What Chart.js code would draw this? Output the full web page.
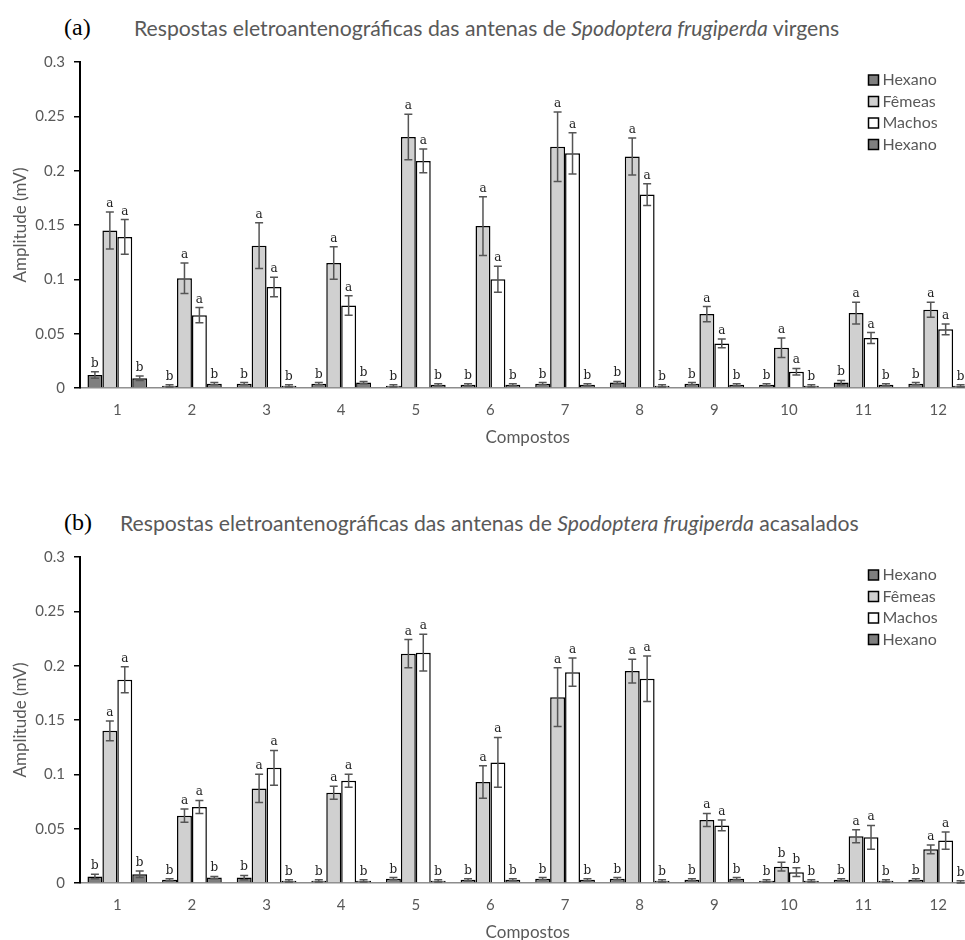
<!DOCTYPE html>
<html>
<head>
<meta charset="utf-8">
<script src="https://cdn.jsdelivr.net/npm/chart.js@4.4.0/dist/chart.umd.min.js"></script>
<style>
  html, body { margin: 0; padding: 0; background: #fff; overflow: hidden; width: 965px; height: 940px; }
  canvas { position: absolute; left: 0; }
  .tag { position: absolute; font-family: 'Liberation Serif', serif; font-size: 24px; color: #000; line-height: 26px; }
  .tit { position: absolute; font-family: Lato, sans-serif; font-size: 21.2px; color: #595959; line-height: 26px; white-space: nowrap; }
</style>
</head>
<body>
<span class="tag" style="left:64px;top:14px">(a)</span>
<span class="tit" style="left:134px;top:15px">Respostas eletroantenográficas das antenas de <i>Spodoptera frugiperda</i> virgens</span>
<canvas id="grafA" width="985" height="430" style="top:40px"></canvas>

<span class="tag" style="left:64px;top:509px">(b)</span>
<span class="tit" style="left:120px;top:510px">Respostas eletroantenográficas das antenas de <i>Spodoptera frugiperda</i> acasalados</span>
<canvas id="grafB" width="985" height="430" style="top:535px"></canvas>

<script>
const compostos = ['1', '2', '3', '4', '5', '6', '7', '8', '9', '10', '11', '12'];
const yTicks = [0, 0.05, 0.1, 0.15, 0.2, 0.25, 0.3];

// (a) virgens
const hexanoA1 = [0.012, 0.002, 0.004, 0.004, 0.002, 0.003, 0.004, 0.005, 0.004, 0.003, 0.005, 0.004];
const hexanoA1Erro = [0.003, 0.001, 0.001, 0.001, 0.001, 0.001, 0.001, 0.001, 0.001, 0.001, 0.002, 0.001];
const femeasA = [0.145, 0.101, 0.131, 0.115, 0.231, 0.149, 0.222, 0.213, 0.068, 0.037, 0.069, 0.072];
const femeasAErro = [0.017, 0.014, 0.021, 0.015, 0.021, 0.027, 0.032, 0.017, 0.007, 0.009, 0.010, 0.007];
const machosA = [0.139, 0.067, 0.093, 0.076, 0.209, 0.100, 0.216, 0.178, 0.041, 0.015, 0.046, 0.054];
const machosAErro = [0.016, 0.007, 0.009, 0.009, 0.011, 0.012, 0.019, 0.010, 0.004, 0.003, 0.005, 0.005];
const hexanoA2 = [0.009, 0.004, 0.002, 0.005, 0.003, 0.003, 0.003, 0.002, 0.003, 0.002, 0.003, 0.002];
const hexanoA2Erro = [0.002, 0.001, 0.001, 0.001, 0.001, 0.001, 0.001, 0.001, 0.001, 0.001, 0.001, 0.001];
const letrasHexA = ['b', 'b', 'b', 'b', 'b', 'b', 'b', 'b', 'b', 'b', 'b', 'b'];
const letrasFemeasA = ['a', 'a', 'a', 'a', 'a', 'a', 'a', 'a', 'a', 'a', 'a', 'a'];
const letrasMachosA = ['a', 'a', 'a', 'a', 'a', 'a', 'a', 'a', 'a', 'a', 'a', 'a'];

// (b) acasalados
const hexanoB1 = [0.006, 0.003, 0.005, 0.002, 0.004, 0.003, 0.004, 0.004, 0.003, 0.002, 0.003, 0.003];
const hexanoB1Erro = [0.002, 0.001, 0.002, 0.001, 0.001, 0.001, 0.001, 0.001, 0.001, 0.001, 0.001, 0.001];
const femeasB = [0.140, 0.062, 0.087, 0.083, 0.211, 0.093, 0.171, 0.195, 0.058, 0.015, 0.043, 0.031];
const femeasBErro = [0.009, 0.006, 0.013, 0.006, 0.013, 0.015, 0.027, 0.011, 0.006, 0.004, 0.006, 0.004];
const machosB = [0.187, 0.070, 0.106, 0.094, 0.212, 0.111, 0.194, 0.188, 0.053, 0.010, 0.042, 0.039];
const machosBErro = [0.012, 0.006, 0.016, 0.006, 0.017, 0.023, 0.013, 0.021, 0.005, 0.004, 0.011, 0.008];
const hexanoB2 = [0.008, 0.005, 0.002, 0.002, 0.002, 0.003, 0.003, 0.002, 0.004, 0.002, 0.002, 0.001];
const hexanoB2Erro = [0.003, 0.001, 0.001, 0.001, 0.001, 0.001, 0.001, 0.001, 0.001, 0.001, 0.001, 0.001];
const letrasHexB = ['b', 'b', 'b', 'b', 'b', 'b', 'b', 'b', 'b', 'b', 'b', 'b'];
const letrasFemeasB = ['a', 'a', 'a', 'a', 'a', 'a', 'a', 'a', 'a', 'b', 'a', 'a'];
const letrasMachosB = ['a', 'a', 'a', 'a', 'a', 'a', 'a', 'a', 'a', 'b', 'a', 'a'];

const corTexto = '#595959';

// barras de erro + letras de significancia
const errosPlugin = {
    id: 'erros',
    afterDatasetsDraw(chart) {
        const ctx = chart.ctx;
        const yScale = chart.scales.y;
        ctx.save();
        chart.data.datasets.forEach((ds, i) => {
            const meta = chart.getDatasetMeta(i);
            meta.data.forEach((bar, j) => {
                const v = ds.data[j];
                const e = ds.erro[j];
                const yTop = yScale.getPixelForValue(v + e);
                const yBot = yScale.getPixelForValue(Math.max(v - e, 0));
                ctx.strokeStyle = '#555';
                ctx.lineWidth = 1.5;
                ctx.beginPath();
                ctx.moveTo(bar.x, yTop); ctx.lineTo(bar.x, yBot);
                ctx.moveTo(bar.x - 4, yTop); ctx.lineTo(bar.x + 4, yTop);
                ctx.moveTo(bar.x - 4, yBot); ctx.lineTo(bar.x + 4, yBot);
                ctx.stroke();
                ctx.fillStyle = '#222';
                ctx.font = '12px "DejaVu Serif"';
                ctx.textAlign = 'center';
                ctx.textBaseline = 'alphabetic';
                ctx.fillText(ds.letras[j], bar.x, yTop - 5);
            });
        });
        ctx.restore();
    }
};

// legenda dentro da area do grafico
const legendaPlugin = {
    id: 'legenda',
    afterDraw(chart) {
        const ctx = chart.ctx;
        const x = chart.chartArea.right - 107;
        ctx.save();
        chart.data.datasets.forEach((ds, i) => {
            const y = chart.chartArea.top + 18 + i * 21.5;
            ctx.fillStyle = ds.backgroundColor;
            ctx.fillRect(x, y - 5, 10, 10);
            ctx.strokeStyle = '#000';
            ctx.lineWidth = 1.5;
            ctx.strokeRect(x, y - 5, 10, 10);
            ctx.fillStyle = corTexto;
            ctx.font = '16px Lato';
            ctx.textAlign = 'left';
            ctx.textBaseline = 'middle';
            ctx.fillText(ds.label, x + 14, y);
        });
        ctx.restore();
    }
};

function serie(label, data, erro, letras, cor) {
    return {
        label: label,
        data: data,
        erro: erro,
        letras: letras,
        backgroundColor: cor,
        borderColor: '#000',
        borderWidth: 1.5,
        categoryPercentage: 0.8,
        barPercentage: 1.0
    };
}

function criarGrafico(id, datasets) {
    return new Chart(document.getElementById(id), {
        type: 'bar',
        data: { labels: compostos, datasets: datasets },
        options: {
            responsive: false,
            animation: false,
            layout: { padding: { top: 22, right: 9.5, left: 0, bottom: 0 } },
            plugins: { legend: { display: false }, tooltip: { enabled: false } },
            scales: {
                x: {
                    grid: { display: false, drawTicks: false },
                    border: { color: '#8c8c8c', width: 1.5 },
                    ticks: { color: corTexto, font: { family: 'Lato', size: 15 }, padding: 13 },
                    title: { display: true, text: 'Compostos', color: corTexto, font: { family: 'Lato', size: 17 }, padding: { top: 0, bottom: 22 } },
                    afterFit: (s) => { s.height = 82; }
                },
                y: {
                    min: 0,
                    max: 0.3,
                    afterBuildTicks: (s) => { s.ticks = yTicks.map(v => ({ value: v })); },
                    grid: { drawOnChartArea: false, tickLength: 6, color: '#000', lineWidth: 1.5 },
                    border: { color: '#000', width: 2 },
                    ticks: {
                        color: corTexto,
                        font: { family: 'Lato', size: 15 },
                        padding: 9,
                        callback: (v) => String(Number(v.toFixed(2)))
                    },
                    title: { display: true, text: 'Amplitude (mV)', color: corTexto, font: { family: 'Lato', size: 17 }, padding: { top: 10, bottom: 0 } },
                    afterFit: (s) => { s.width = 80; }
                }
            }
        },
        plugins: [errosPlugin, legendaPlugin]
    });
}

criarGrafico('grafA', [
    serie('Hexano', hexanoA1, hexanoA1Erro, letrasHexA, '#7f7f7f'),
    serie('Fêmeas', femeasA, femeasAErro, letrasFemeasA, '#d0d0d0'),
    serie('Machos', machosA, machosAErro, letrasMachosA, '#ffffff'),
    serie('Hexano', hexanoA2, hexanoA2Erro, letrasHexA, '#7f7f7f')
]);

criarGrafico('grafB', [
    serie('Hexano', hexanoB1, hexanoB1Erro, letrasHexB, '#7f7f7f'),
    serie('Fêmeas', femeasB, femeasBErro, letrasFemeasB, '#d0d0d0'),
    serie('Machos', machosB, machosBErro, letrasMachosB, '#ffffff'),
    serie('Hexano', hexanoB2, hexanoB2Erro, letrasHexB, '#7f7f7f')
]);
</script>
</body>
</html>
